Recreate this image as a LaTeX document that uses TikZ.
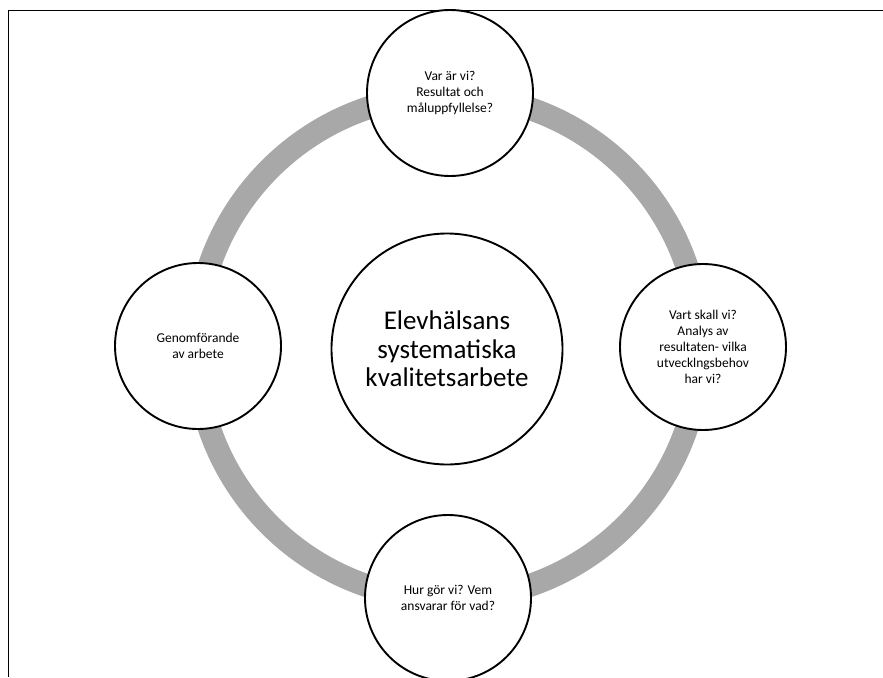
\documentclass[tikz,border=0pt]{standalone}
\usepackage{fontspec}
\setmainfont{Carlito}
\definecolor{ringgray}{RGB}{168,168,168}
\tikzset{
  small/.style={circle, draw=black, line width=1.9pt, fill=white, minimum size=166pt, inner sep=0pt, align=center, font=\fontsize{13.5}{16}\selectfont},
  big/.style={circle, draw=black, line width=1.9pt, fill=white, minimum size=231pt, inner sep=0pt, align=center, font=\fontsize{27}{28.5}\selectfont},
  frameline/.style={line width=1.9pt, black}
}
\begin{document}
\begin{tikzpicture}[x=1pt,y=-1pt]
\useasboundingbox (0,0) rectangle (883,677);
\clip (0,0) rectangle (883,677);
\coordinate (tl) at (8.5,10.5);
\coordinate (tr) at (883,10.5);
\coordinate (bl) at (8.5,677);
\draw[frameline] (tr) -- (tl) -- (bl);
\coordinate (ringc) at (448,347);
\draw[ringgray, line width=23pt] (ringc) circle[radius=252pt];
\node[big] (c) at (447,349) {Elevhälsans\\systematiska\\kvalitetsarbete};
\node[small] (t) at (450,93) {Var är vi?\\Resultat och\\måluppfyllelse?};
\node[small] (r) at (703,347) {Vart skall vi?\\Analys av\\resultaten- vilka\\utvecklngsbehov\\har vi?};
\node[small] (b) at (448,598) {Hur gör vi? Vem\\ansvarar för vad?};
\node[small] (l) at (198,346) {Genomförande\\av arbete};
\end{tikzpicture}
\end{document}
